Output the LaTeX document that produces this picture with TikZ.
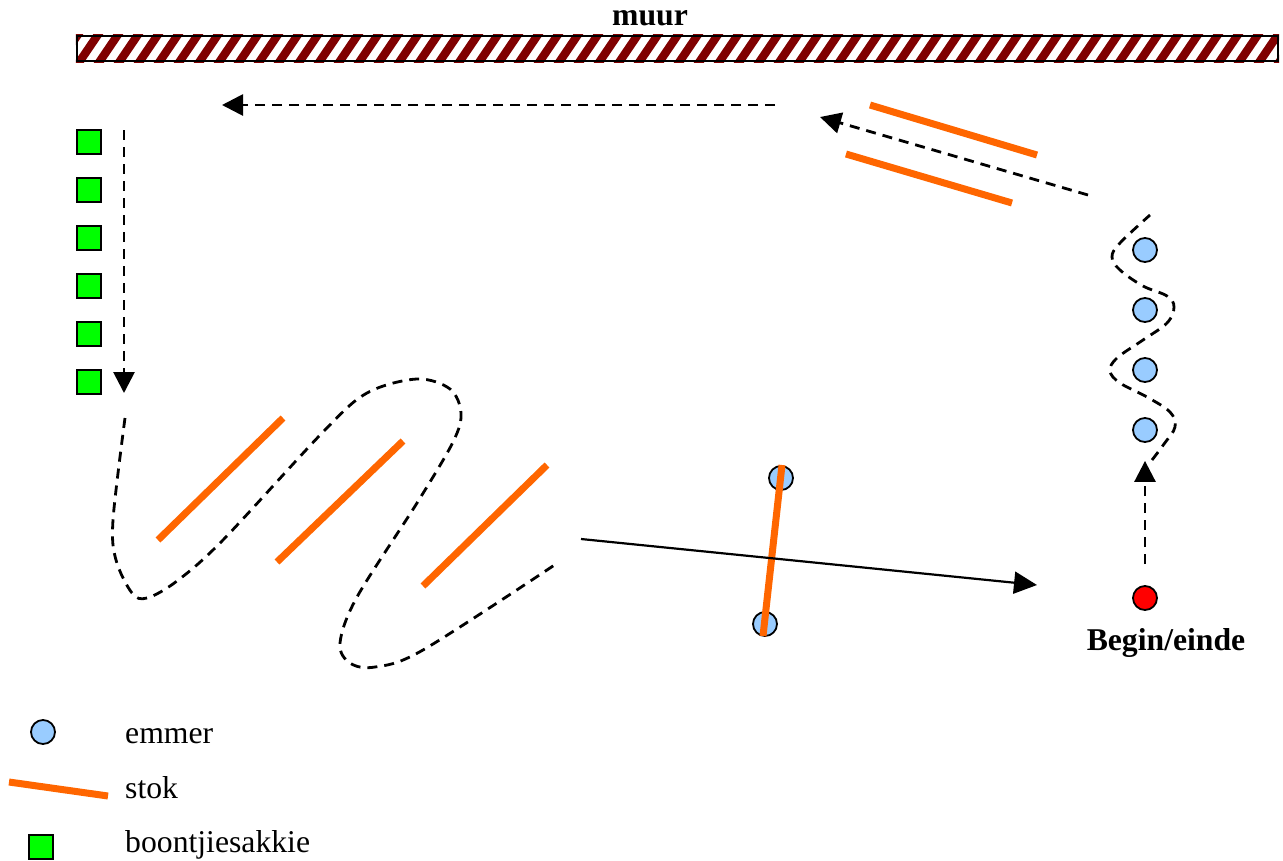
\documentclass[tikz,border=0pt]{standalone}
\usepackage{fontspec}
\setmainfont{Liberation Serif}
\usetikzlibrary{arrows.meta,positioning}
\definecolor{ink}{HTML}{000000}
\definecolor{brick}{HTML}{800000}
\definecolor{stickorange}{HTML}{FF6600}
\definecolor{bucketblue}{HTML}{99CCFF}
\definecolor{baggreen}{HTML}{00FF00}
\definecolor{startred}{HTML}{FF0000}
\tikzset{
  every node/.style={font=\fontsize{31.7}{38}\selectfont, text=ink},
  emmer/.style={circle, draw=ink, line width=1.8pt, fill=bucketblue,
                minimum size=24pt, inner sep=0pt},
  startpt/.style={emmer, fill=startred},
  sakkie/.style={rectangle, draw=ink, line width=1.8pt, fill=baggreen,
                 minimum size=24pt, inner sep=0pt},
  stok/.style={draw=stickorange, line width=7pt},
  wallbox/.style={draw=ink, line width=2.2pt, minimum width=1201pt,
                  minimum height=25pt, inner sep=0pt},
  stripe/.style={draw=brick, line width=8.3pt},
  route/.style={draw=ink, line width=2.8pt, dash pattern=on 10pt off 7pt},
  routearr/.style={route, -{Triangle[length=21pt, width=21pt]}},
  solidarr/.style={draw=ink, line width=2.2pt, -{Triangle[length=23pt, width=22pt]}},
  lbl/.style={font=\fontsize{31.7}{38}\selectfont\bfseries, anchor=base, inner sep=0pt},
  legend/.style={anchor=base west, inner sep=0pt},
}

\begin{document}
\begin{tikzpicture}[x=1pt, y=-1pt]
\useasboundingbox (0,0) rectangle (1283,860);

% --- wall along the top ---
\node[wallbox] (wall) at (677.5,48.5) {};
\begin{scope}
\clip (wall.south west) rectangle (wall.north east);
\foreach \x in {40,60,...,1300}
  \draw[stripe] (\x-3.4,66) -- ++(23.8,-35);
\end{scope}
\node[wallbox] at (wall) {};
\node[lbl] (muur) at (650,25) {muur};

% --- bean bags on the left ---
\foreach \y [count=\i] in {142,190,...,382}
  \node[sakkie] (s\i) at (89,\y) {};

% --- buckets, start point ---
\foreach \y [count=\i] in {250,310,370,430}
  \node[emmer] (b\i) at (1145,\y) {};
\node[startpt] (start) at (1145,598) {};
\node[lbl] (startlbl) at (1166,650) {Begin/einde};
\node[emmer] (c1) at (781,478) {};
\node[emmer] (c2) at (765,624) {};

% --- route ends ---
\coordinate (topA) at (775,105);
\coordinate (topB) at (222,105);
\coordinate (diagA) at (1088,195);
\coordinate (diagB) at (820,117);
\coordinate (downA) at (124,130);
\coordinate (downB) at (124,393);
\coordinate (crossA) at (581,539);
\coordinate (crossB) at (1037,585);

% --- dashed route ---
\draw[routearr, shorten <=21pt, shorten >=18pt] (start.north) -- (b4.south);
\draw[route] plot[smooth, tension=0.6] coordinates {
  (1152,460) (1164,444) (1175,427) (1170,412) (1147,397) (1120,383)
  (1110,371) (1117,358) (1143,340) (1167,323) (1174,307) (1167,296)
  (1143,286) (1120,270) (1112,257) (1120,243) (1150,215)};
\draw[routearr] (diagA) -- (diagB);
\draw[routearr] (topA) -- (topB);
\draw[routearr] (downA) -- (downB);
\draw[route] plot[smooth, tension=0.55] coordinates {
  (125,418) (113,520) (116,560) (132,593) (147,598) (177,581)
  (223,540) (323,432) (367,393) (417,379) (450,389) (461,413)
  (453,442) (417,503) (357,597) (340,643) (350,663) (375,667)
  (423,650) (556,564)};

% --- sticks ---
\draw[stok] (870,105) -- (1037,155);
\draw[stok] (846,154) -- (1012,203);
\draw[stok] (158,540) -- (283,418);
\draw[stok] (277,562) -- (403,441);
\draw[stok] (423,586) -- (547,465);
\draw[stok] (782,465) -- (763,636);

% --- solid run to the finish ---
\draw[solidarr] (crossA) -- (crossB);

% --- legend ---
\node[emmer] (legE) at (43,732) {};
\node[legend] (legEtxt) at (125,743) {emmer};
\coordinate (legSa) at (9,782);
\coordinate (legSb) at (108,796);
\draw[stok] (legSa) -- (legSb);
\node[legend] (legStxt) at (125,798) {stok};
\node[sakkie] (legB) at (41,847) {};
\node[legend] (legBtxt) at (125,852) {boontjiesakkie};

\end{tikzpicture}
\end{document}
